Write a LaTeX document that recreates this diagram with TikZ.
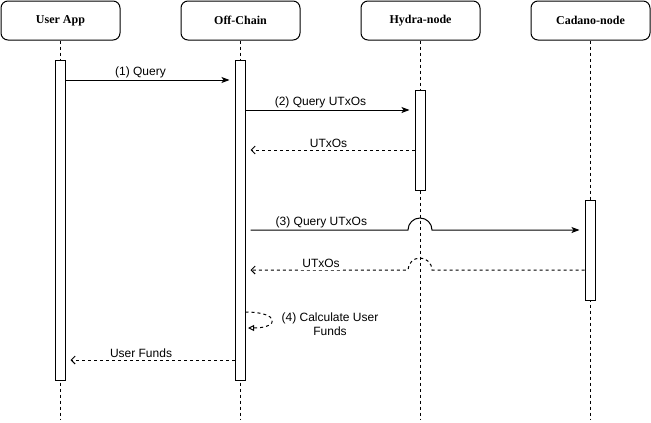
\documentclass[tikz,border=0pt]{standalone}
\usepackage{fontspec}
\setmainfont{Liberation Serif}
\setsansfont{Liberation Sans}
\usetikzlibrary{arrows.meta,positioning}

\tikzset{
  actor/.style={draw,fill=white,rounded corners=7pt,minimum width=119pt,
    minimum height=39pt,font=\bfseries\fontsize{12}{14}\selectfont},
  bar/.style={draw,fill=white,minimum width=10pt,inner sep=0pt},
  life/.style={dash pattern=on 3pt off 3pt},
  msg/.style={-{Stealth[length=8pt,width=6pt,inset=2pt]}},
  reply/.style={dash pattern=on 3pt off 3pt,-{Straight Barb[length=4pt,width=8pt]}},
  lbl/.style={font=\sffamily\fontsize{12}{14}\selectfont,inner sep=2pt},
}

\begin{document}
\begin{tikzpicture}[x=1pt,y=1pt,line width=1pt]
    \useasboundingbox (0,0) rectangle (651,-423);

    \node[actor] (app) at (60.5,-20.5) {User App};
    \node[actor] (off) at (240.5,-20.5) {Off-Chain};
    \node[actor] (hydra) at (420.5,-20.5) {Hydra-node};
    \node[actor] (cadano) at (590.5,-20.5) {Cadano-node};

    \foreach \a in {app,off,hydra,cadano}
      \draw[life] (\a.south) -- (\a.south |- 0,-420);

    \node[bar,minimum height=320pt] (appbar) at (60,-220) {};
    \node[bar,minimum height=320pt] (offbar) at (240,-220) {};
    \node[bar,minimum height=100pt] (hydrabar) at (420,-140) {};
    \node[bar,minimum height=100pt] (cadanobar) at (590,-250) {};

    \draw[msg] (appbar.east |- 0,-80) -- ([xshift=-5pt]offbar.west |- 0,-80)
      node[lbl,midway,above,xshift=-7pt] {(1) Query};

    \draw[msg] (offbar.east |- 0,-110) -- ([xshift=-5pt]hydrabar.west |- 0,-110)
      node[lbl,midway,above,xshift=-7pt] {(2) Query UTxOs};

    \draw[reply] (hydrabar.west |- 0,-150) -- ([xshift=5pt]offbar.east |- 0,-150)
      node[lbl,midway,above,xshift=-4pt] {UTxOs};

    \draw[msg] ([xshift=5pt]offbar.east |- 0,-230)
      -- node[lbl,above,pos=0.45] {(3) Query UTxOs} (408,-230)
      arc (180:0:12pt) -- ([xshift=-5pt]cadanobar.west |- 0,-230);

    \draw[reply] (cadanobar.west |- 0,-270) -- (432,-270)
      arc (0:180:12pt) -- ([xshift=5pt]offbar.east |- 0,-270);
    \node[lbl,fill=white,inner sep=3pt] (ret) at (321,-263) {UTxOs};

    \draw[dash pattern=on 3pt off 3pt,-{Triangle[open,length=6pt,width=6pt]}]
      (offbar.east |- 0,-312) .. controls (280,-312) and (280,-328) .. (248,-328);
    \node[lbl,align=center] (calc) at (330,-324) {(4) Calculate User\\Funds};

    \draw[reply] (offbar.west |- 0,-360) -- ([xshift=5pt]appbar.east |- 0,-360)
      node[lbl,pos=0.57,above] {User Funds};
\end{tikzpicture}
\end{document}
